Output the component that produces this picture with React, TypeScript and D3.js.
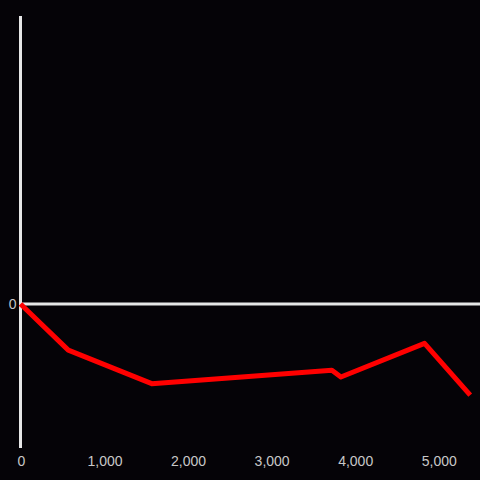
import React from "react";
import * as d3 from "d3";

const xValues = [0, 572, 1571, 3727, 3835, 4836, 5383];
const yValues = [0, -0.48, -0.83, -0.69, -0.76, -0.41, -0.95];
const xTicks = [0, 1000, 2000, 3000, 4000, 5000];
const yTicks = [0];

const W = 480;
const H = 480;

export default function App() {
  const x = d3.scaleLinear().domain([0, 5500]).range([20.5, 480]);
  const y = d3.scaleLinear().domain([-1.5, 3]).range([448, 16]);
  const pts: [number, number][] = xValues.map((v, i) => [v, yValues[i]]);
  const line = d3
    .line<[number, number]>()
    .x((d) => x(d[0]))
    .y((d) => y(d[1]));
  const fmt = d3.format(",");
  return (
    <svg
      width={W}
      height={H}
      style={{ position: "fixed", left: 0, top: 0, display: "block" }}
    >
      <rect x={0} y={0} width={W} height={H} fill="#050307" />
      <line x1={x(0)} x2={x(0)} y1={y(3)} y2={y(-1.5)} stroke="#e6e6e6" strokeWidth={3} />
      <line x1={x(0)} x2={480} y1={y(0)} y2={y(0)} stroke="#e6e6e6" strokeWidth={3} />
      {yTicks.map((t) => (
        <text
          key={t}
          x={x(0) - 4}
          y={y(t)}
          dy="0.35em"
          textAnchor="end"
          fill="#c8c8c8"
          fontFamily="'Liberation Sans', Arial, sans-serif"
          fontSize={14}
        >
          {fmt(t)}
        </text>
      ))}
      {xTicks.map((t) => (
        <text
          key={t}
          x={x(t) + 1}
          y={466}
          textAnchor="middle"
          fill="#c8c8c8"
          fontFamily="'Liberation Sans', Arial, sans-serif"
          fontSize={14}
        >
          {fmt(t)}
        </text>
      ))}
      <path
        d={line(pts) || ""}
        fill="none"
        stroke="#ff0000"
        strokeWidth={5}
        strokeLinejoin="round"
        strokeLinecap="butt"
      />
    </svg>
  );
}
